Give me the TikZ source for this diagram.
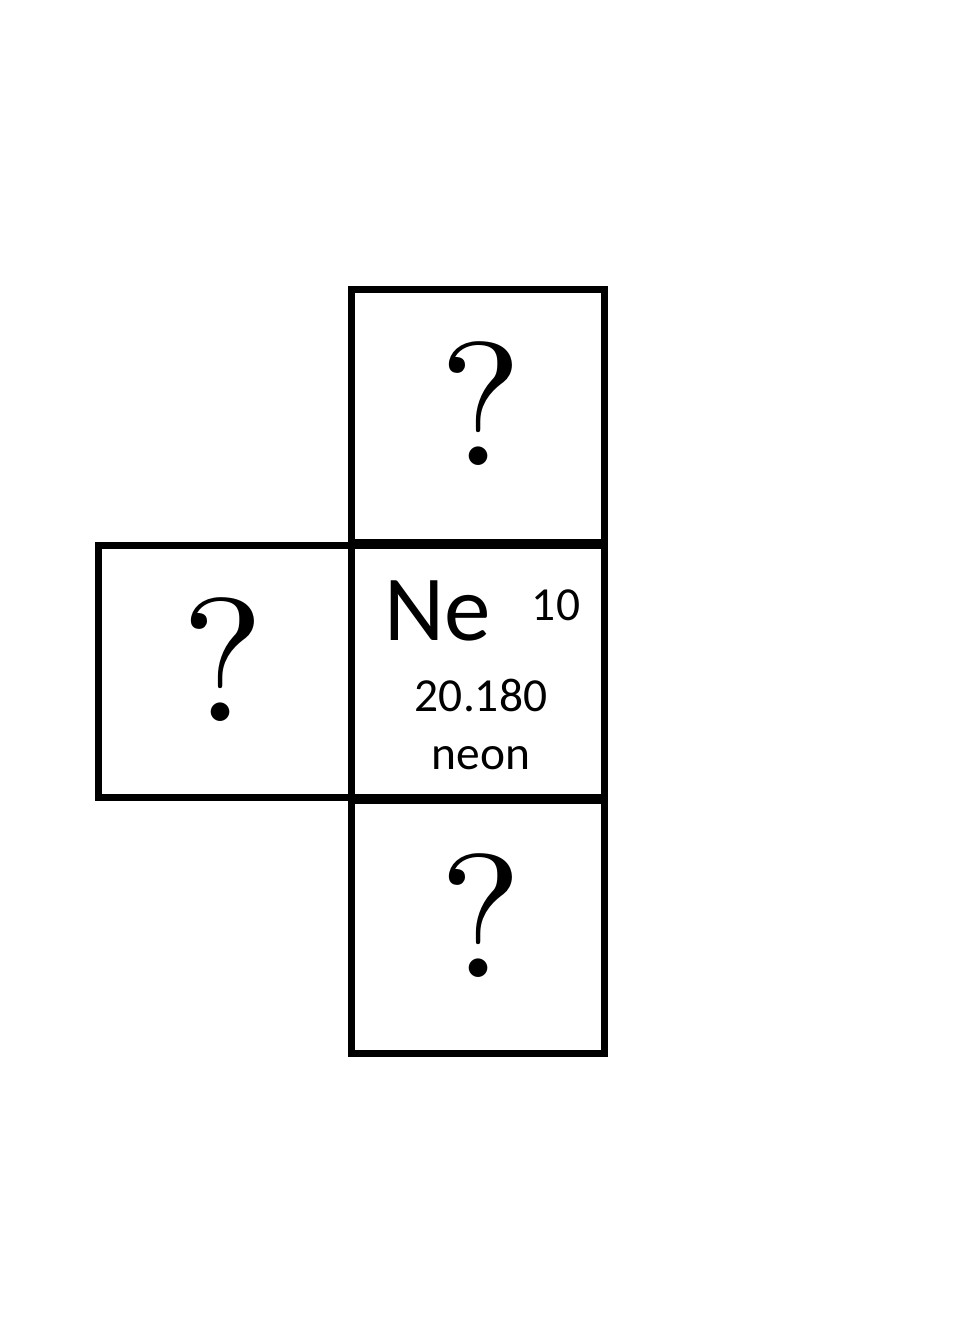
\documentclass[tikz,border=0pt]{standalone}
\usepackage{fontspec}
\newfontfamily\elemfont{Carlito}
\newfontfamily\questfont{lmroman10-regular.otf}
\usetikzlibrary{positioning}

\tikzset{
  cellbox/.style={draw, line width=0.14cm, minimum width=5.06cm, minimum height=5.06cm, inner sep=0pt},
  quest/.style={font=\questfont\fontsize{100}{100}\selectfont, anchor=base, inner sep=0pt},
  elem/.style={font=\elemfont\fontsize{27}{27}\selectfont, anchor=base, inner sep=0pt}
}

\begin{document}
\begin{tikzpicture}[x=0.02cm, y=-0.02cm]
    \useasboundingbox (0,0) rectangle (960,1344);
    % the four cells
    \node[cellbox] (top) at (478,416) {};
    \node[cellbox] (mid) at (478,671.5) {};
    \node[cellbox] (left) at (225,671.5) {};
    \node[cellbox] (bottom) at (478,927) {};
    % unknown neighbours
    \node[quest] (qtop) at (481,465) {?};
    \node[quest] (qleft) at (223,721) {?};
    \node[quest] (qbottom) at (481,977) {?};
    % the known element
    \node[elem, font=\elemfont\fontsize{53}{53}\selectfont] (sym) at (438,640) {Ne};
    \node[elem] (num) at (556,620) {10};
    \node[elem] (mass) at (481,711) {20.180};
    \node[elem] (name) at (481,769) {neon};
\end{tikzpicture}
\end{document}
